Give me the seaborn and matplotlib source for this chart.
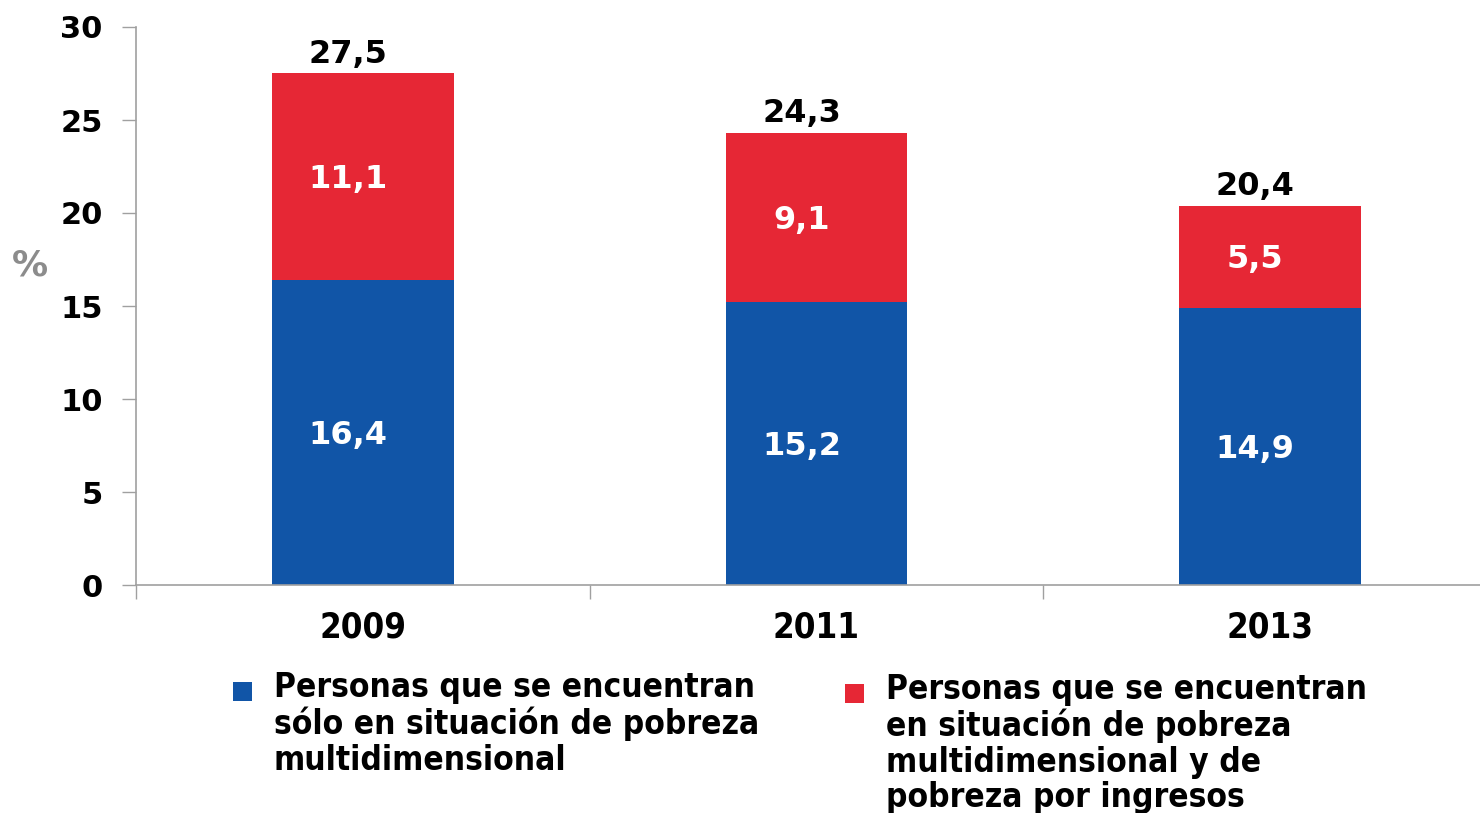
import matplotlib
matplotlib.use("Agg")
import matplotlib.pyplot as plt
import seaborn as sns
import pandas as pd
from matplotlib.patches import Patch, Rectangle
from matplotlib.legend_handler import HandlerPatch

# --------------------------------------------------
# Data
# --------------------------------------------------
years = ["2009", "2011", "2013"]
solo_multi = [16.4, 15.2, 14.9]      # blue, bottom
multi_ingresos = [11.1, 9.1, 5.5]   # red, top
totals = [27.5, 24.3, 20.4]

label_blue = "Personas que se encuentran\nsólo en situación de pobreza\nmultidimensional"
label_red = "Personas que se encuentran\nen situación de pobreza\nmultidimensional y de\npobreza por ingresos"

blue = "#1155A7"
red = "#E62735"
axis_grey = "#A0A0A0"

df = pd.DataFrame({"year": years, "blue": solo_multi, "red": multi_ingresos, "total": totals})

sns.set_style("white")
plt.rcParams["font.family"] = ["DejaVu Sans"]
plt.rcParams["text.color"] = "black"
plt.rcParams["xtick.labelcolor"] = "black"
plt.rcParams["ytick.labelcolor"] = "black"

fig = plt.figure(figsize=(14.8, 8.13), dpi=100)
ax = fig.add_axes([136 / 1480, 1 - 585 / 813, 1 - 136 / 1480, (585 - 27) / 813])

# stacked bars: total in red first, blue bottom part drawn over it
sns.barplot(data=df, x="year", y="total", color=red, width=0.4, saturation=1, linewidth=0, ax=ax)
sns.barplot(data=df, x="year", y="blue", color=blue, width=0.4, saturation=1, linewidth=0, ax=ax)

def fmt(v):
    return f"{v:.1f}".replace(".", ",")

# labels sit a little left of the bar centre, as in the original
dx = -0.033
for i in range(len(years)):
    ax.text(i + dx, totals[i] + 0.2, fmt(totals[i]), ha="center", va="bottom",
            fontsize=23, fontweight="bold", color="black")
    ax.text(i + dx, solo_multi[i] + multi_ingresos[i] / 2 - 0.17, fmt(multi_ingresos[i]),
            ha="center", va="center", fontsize=23, fontweight="bold", color="white")
    ax.text(i + dx, solo_multi[i] / 2 - 0.17, fmt(solo_multi[i]),
            ha="center", va="center", fontsize=23, fontweight="bold", color="white")

ax.set_ylim(0, 30)
ax.set_xlim(-0.5, 2.463)
ax.set_yticks(range(0, 31, 5))
ax.set_xticks(range(len(years)))
ax.set_xticklabels(years, fontsize=25, fontweight="bold", fontstretch="condensed")
ax.set_xticks([-0.5, 0.5, 1.5], minor=True)
ax.tick_params(axis="x", which="major", bottom=True, length=0, pad=18)
ax.tick_params(axis="x", which="minor", bottom=True, length=10, width=1, color=axis_grey, direction="out")
ax.tick_params(axis="y", left=True, length=10, width=1, color=axis_grey, direction="out", pad=14, labelsize=22)
for lab in ax.get_yticklabels():
    lab.set_fontweight("bold")
ax.set_xlabel("")
ax.set_ylabel("")

sns.despine(ax=ax, top=True, right=True)
ax.spines["left"].set_color(axis_grey)
ax.spines["bottom"].set_color(axis_grey)
ax.spines["left"].set_linewidth(1.2)
ax.spines["bottom"].set_linewidth(1.2)

fig.text(30 / 1480, 1 - 265 / 813, "%", fontsize=26, fontweight="bold", color="#8C8C8C",
         ha="center", va="center")

# square marker placed at the bottom of a taller handle box so it lines up with the first text line
def square_patch(legend, orig_handle, xdescent, ydescent, width, height, fontsize):
    side = 0.57 * fontsize
    return Rectangle((-xdescent, -ydescent), width, side)

leg_font = {"size": 24, "weight": "bold", "stretch": "condensed"}
for handle_color, text, x0, y0 in [(blue, label_blue, 233, 671), (red, label_red, 845, 673)]:
    leg = fig.legend([Patch(facecolor=handle_color, edgecolor="none")], [text],
                     loc="upper left", bbox_to_anchor=(x0 / 1480, 1 - y0 / 813),
                     frameon=False, prop=leg_font, handlelength=0.57, handleheight=1.0,
                     handletextpad=0.66, borderpad=0, borderaxespad=0,
                     handler_map={Patch: HandlerPatch(patch_func=square_patch)})
    for col in leg._legend_handle_box.get_children():
        for item in col.get_children():
            item.align = "top"
    for t in leg.get_texts():
        t.set_linespacing(1.1)

fig.savefig("out.png", dpi=100)
